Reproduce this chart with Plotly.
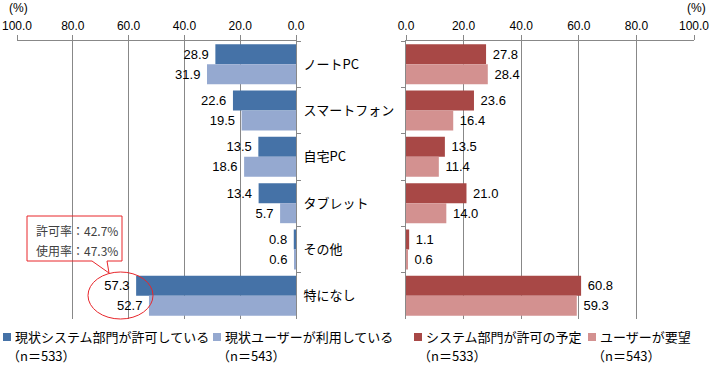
import plotly.graph_objects as go

# ---- data ----
categories = ["ノートPC", "スマートフォン", "自宅PC", "タブレット", "その他", "特になし"]
permit_now = [28.9, 22.6, 13.5, 13.4, 0.8, 57.3]      # 現状システム部門が許可している
use_now = [31.9, 19.5, 18.6, 5.7, 0.6, 52.7]          # 現状ユーザーが利用している
permit_plan = [27.8, 23.6, 13.5, 21.0, 1.1, 60.8]     # システム部門が許可の予定
user_request = [28.4, 16.4, 11.4, 14.0, 0.6, 59.3]    # ユーザーが要望
tick_vals = [0, 20, 40, 60, 80, 100]

series_names = [
    "現状システム部門が許可している",
    "現状ユーザーが利用している",
    "システム部門が許可の予定",
    "ユーザーが要望",
]
series_n = ["（n＝533）", "（n＝543）", "（n＝533）", "（n＝543）"]
colors = ["#4572A7", "#95A9D0", "#A84846", "#D39190"]

W, H = 714, 370
def px(x):
    return x / W
def py(y):
    return 1 - y / H

NUM_FONT = "Liberation Sans, Arial, sans-serif"
JP_FONT = "Noto Sans CJK JP, sans-serif"
GRID = "#888888"
NB = "\u00a0"

fig = go.Figure()
pairs = [(permit_now, "x", "y", "%{x:.1f}" + NB), (use_now, "x", "y", "%{x:.1f}" + NB),
         (permit_plan, "x2", "y2", NB + "%{x:.1f}"), (user_request, "x2", "y2", NB + "%{x:.1f}")]
for i, (vals, xa, ya, tt) in enumerate(pairs):
    fig.add_trace(go.Bar(
        x=vals, y=categories, orientation="h",
        xaxis=xa, yaxis=ya, name=series_names[i],
        marker=dict(color=colors[i], line=dict(width=0)),
        texttemplate=tt, textposition="outside",
        textfont=dict(family=NUM_FONT, size=13, color="#000000"),
        cliponaxis=False, showlegend=False, hoverinfo="x+y",
    ))

xcommon = dict(side="top", tickvals=tick_vals, tickformat=".1f",
               showgrid=True, gridcolor=GRID, gridwidth=1,
               ticks="outside", ticklen=5, tickcolor=GRID,
               showline=True, linecolor=GRID, zeroline=False,
               tickfont=dict(family=NUM_FONT, size=12, color="#000000"),
               automargin=False, fixedrange=True)
ycommon = dict(type="category", categoryorder="array", categoryarray=categories,
               autorange="reversed", tickson="boundaries", ticks="outside",
               ticklen=4, tickcolor=GRID, showline=True, linecolor=GRID,
               showgrid=False, zeroline=False, domain=[py(319), py(41)],
               automargin=False, fixedrange=True)

fig.update_layout(
    width=W, height=H, autosize=False,
    margin=dict(l=0, r=0, t=0, b=0, pad=0, autoexpand=False),
    paper_bgcolor="white", plot_bgcolor="white",
    barmode="group", bargap=0.136, bargroupgap=0,
    xaxis=dict(domain=[px(17), px(296)], range=[100, 0], anchor="y", **xcommon),
    xaxis2=dict(domain=[px(406), px(694)], range=[0, 100], anchor="y2", **xcommon),
    yaxis=dict(anchor="x", side="right", showticklabels=True,
               ticklabelstandoff=4,
               tickfont=dict(family=JP_FONT, size=13, color="#000000"), **ycommon),
    yaxis2=dict(anchor="x2", side="left", showticklabels=False, **ycommon),
)

annotations = []
shapes = []
# (%) unit labels
annotations.append(dict(text="(%)", x=px(7), y=py(8), xref="paper", yref="paper",
                        xanchor="left", yanchor="middle", showarrow=False,
                        font=dict(family=NUM_FONT, size=12, color="#000000")))
annotations.append(dict(text="(%)", x=px(708), y=py(8), xref="paper", yref="paper",
                        xanchor="right", yanchor="middle", showarrow=False,
                        font=dict(family=NUM_FONT, size=12, color="#000000")))

# callout bubble
bubble = "M {},{} L {},{} L {},{} L {},{} L {},{} L {},{} L {},{} Z".format(
    px(27), py(216), px(122), py(216), px(122), py(261),
    px(107), py(261), px(109), py(273), px(92), py(261), px(27), py(261))
shapes.append(dict(type="path", path=bubble, xref="paper", yref="paper",
                   line=dict(color="#E8262B", width=1), fillcolor="rgba(0,0,0,0)"))
shapes.append(dict(type="circle", xref="paper", yref="paper",
                   x0=px(88), x1=px(153), y0=py(319), y1=py(272),
                   line=dict(color="#E8262B", width=1), fillcolor="rgba(0,0,0,0)"))
for txt, yy in [("許可率：42.7%", 231), ("使用率：47.3%", 250)]:
    annotations.append(dict(text=txt, x=px(34), y=py(yy), xref="paper", yref="paper",
                            xanchor="left", yanchor="middle", showarrow=False,
                            font=dict(family=JP_FONT, size=12, color="#404040")))

# legend (custom)
leg_x = [3, 213, 414, 588]
for i in range(4):
    x0 = leg_x[i]
    shapes.append(dict(type="rect", xref="paper", yref="paper",
                       x0=px(x0), x1=px(x0 + 8), y0=py(341), y1=py(333),
                       line=dict(width=0), fillcolor=colors[i]))
    annotations.append(dict(text=series_names[i], x=px(x0 + 10), y=py(336),
                            xref="paper", yref="paper", xanchor="left", yanchor="middle",
                            showarrow=False,
                            font=dict(family=JP_FONT, size=13, color="#000000")))
    annotations.append(dict(text=series_n[i], x=px(x0 + 2), y=py(355.5),
                            xref="paper", yref="paper", xanchor="left", yanchor="middle",
                            showarrow=False,
                            font=dict(family=JP_FONT, size=13, color="#000000")))

fig.update_layout(annotations=annotations, shapes=shapes)
fig.write_html("out.html", config={"displayModeBar": False},
               post_script="document.body.style.margin='0';document.body.style.overflow='hidden';")
